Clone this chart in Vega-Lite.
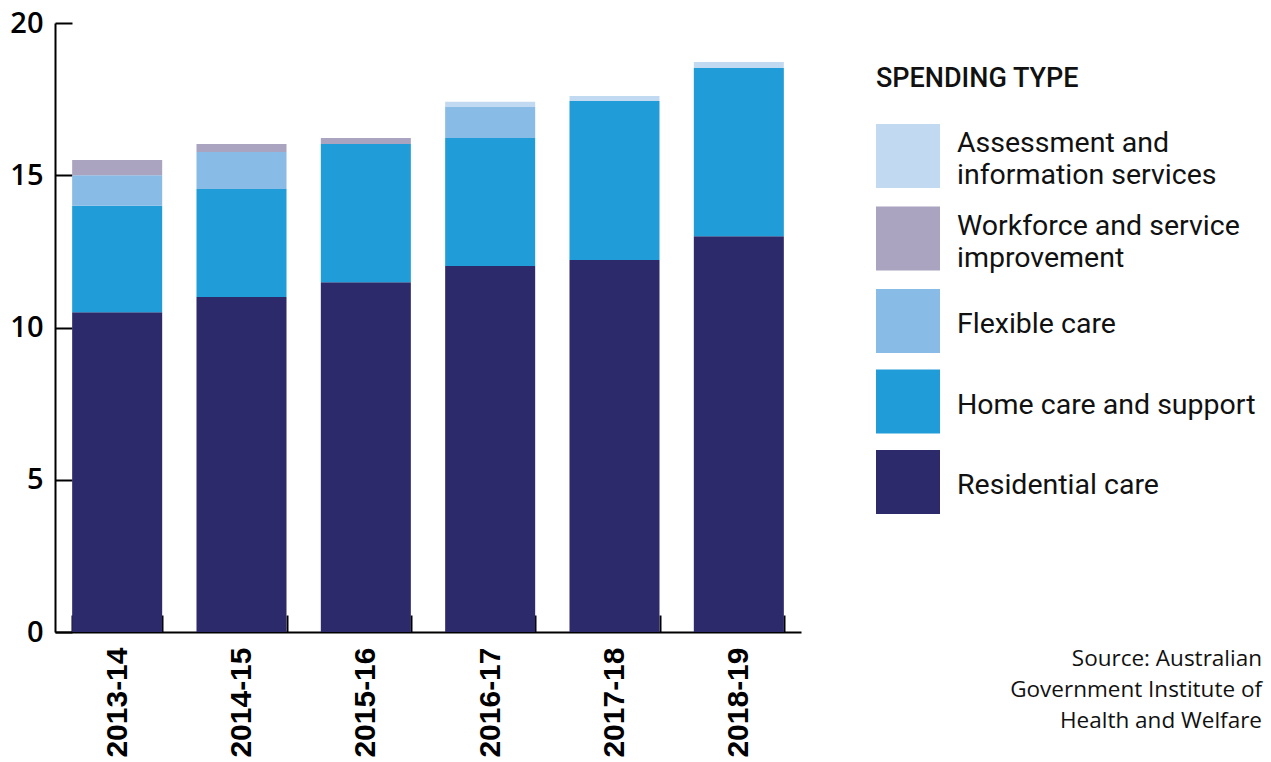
{
  "$schema": "https://vega.github.io/schema/vega-lite/v6.json",
  "autosize": "none",
  "width": 746,
  "height": 609,
  "padding": {"left": 55, "top": 23, "right": 470, "bottom": 130},
  "background": "white",
  "title": {
    "text": ["Source: Australian", "Government Institute of", "Health and Welfare"],
    "orient": "bottom",
    "anchor": "end",
    "frame": "bounds",
    "font": "Open Sans",
    "fontSize": 22.5,
    "fontWeight": "normal",
    "color": "#111111",
    "lineHeight": 31,
    "offset": -109,
    "dx": 6
  },
  "data": {
    "values": [
      {"year": "2013-14", "type": "Residential care", "value": 10.5},
      {"year": "2013-14", "type": "Home care and support", "value": 3.5},
      {"year": "2013-14", "type": "Flexible care", "value": 1.0},
      {"year": "2013-14", "type": "Workforce and service improvement", "value": 0.5},
      {"year": "2013-14", "type": "Assessment and information services", "value": 0},
      {"year": "2014-15", "type": "Residential care", "value": 11.0},
      {"year": "2014-15", "type": "Home care and support", "value": 3.55},
      {"year": "2014-15", "type": "Flexible care", "value": 1.21},
      {"year": "2014-15", "type": "Workforce and service improvement", "value": 0.27},
      {"year": "2014-15", "type": "Assessment and information services", "value": 0},
      {"year": "2015-16", "type": "Residential care", "value": 11.49},
      {"year": "2015-16", "type": "Home care and support", "value": 4.54},
      {"year": "2015-16", "type": "Flexible care", "value": 0},
      {"year": "2015-16", "type": "Workforce and service improvement", "value": 0.19},
      {"year": "2015-16", "type": "Assessment and information services", "value": 0},
      {"year": "2016-17", "type": "Residential care", "value": 12.02},
      {"year": "2016-17", "type": "Home care and support", "value": 4.2},
      {"year": "2016-17", "type": "Flexible care", "value": 1.02},
      {"year": "2016-17", "type": "Workforce and service improvement", "value": 0},
      {"year": "2016-17", "type": "Assessment and information services", "value": 0.17},
      {"year": "2017-18", "type": "Residential care", "value": 12.22},
      {"year": "2017-18", "type": "Home care and support", "value": 5.22},
      {"year": "2017-18", "type": "Flexible care", "value": 0},
      {"year": "2017-18", "type": "Workforce and service improvement", "value": 0},
      {"year": "2017-18", "type": "Assessment and information services", "value": 0.16},
      {"year": "2018-19", "type": "Residential care", "value": 13.0},
      {"year": "2018-19", "type": "Home care and support", "value": 5.52},
      {"year": "2018-19", "type": "Flexible care", "value": 0},
      {"year": "2018-19", "type": "Workforce and service improvement", "value": 0},
      {"year": "2018-19", "type": "Assessment and information services", "value": 0.2}
    ]
  },
  "transform": [
    {"calculate": "indexof(['Residential care','Home care and support','Flexible care','Workforce and service improvement','Assessment and information services'], datum.type)", "as": "stackOrder"}
  ],
  "mark": {"type": "bar"},
  "encoding": {
    "x": {
      "field": "year",
      "type": "ordinal",
      "scale": {"paddingInner": 0.276, "paddingOuter": 0.138},
      "axis": {
        "title": null,
        "domainColor": "#000000",
        "domainWidth": 2,
        "tickColor": "#000000",
        "tickWidth": 2,
        "tickSize": -17,
        "tickBand": "extent",
        "labelAngle": -90,
        "labelAlign": "right",
        "labelBaseline": "middle",
        "labelFont": "Liberation Sans",
        "labelFontWeight": "bold",
        "labelFontSize": 30,
        "labelColor": "#000000",
        "labelPadding": 32
      }
    },
    "y": {
      "field": "value",
      "type": "quantitative",
      "stack": "zero",
      "scale": {"domain": [0, 20], "nice": false},
      "axis": {
        "title": null,
        "values": [0, 5, 10, 15, 20],
        "grid": false,
        "domainColor": "#000000",
        "domainWidth": 2,
        "tickColor": "#000000",
        "tickWidth": 2,
        "tickSize": -17,
        "labelFont": "Open Sans",
        "labelFontWeight": 600,
        "labelFontSize": 29,
        "labelColor": "#000000",
        "labelPadding": 29
      }
    },
    "color": {
      "field": "type",
      "type": "nominal",
      "scale": {
        "domain": ["Assessment and information services", "Workforce and service improvement", "Flexible care", "Home care and support", "Residential care"],
        "range": ["#c2daf1", "#aaa4c0", "#88bbe6", "#209cd8", "#2c2a6a"]
      },
      "legend": {
        "title": "SPENDING TYPE",
        "orient": "none",
        "legendX": 821,
        "legendY": 43,
        "padding": 0,
        "titleFont": "Roboto",
        "titleFontWeight": 500,
        "titleFontSize": 27,
        "titleLimit": 500,
        "titleColor": "#111111",
        "titlePadding": 31,
        "titleAnchor": "start",
        "symbolType": "square",
        "symbolSize": 4096,
        "symbolStrokeWidth": 0,
        "symbolOpacity": 1,
        "labelFont": "Roboto",
        "labelFontSize": 28.5,
        "labelColor": "#111111",
        "labelLimit": 400,
        "labelOffset": 17,
        "labelBaseline": "middle",
        "rowPadding": 16.5,
        "labelExpr": "datum.label == 'Assessment and information services' ? ['Assessment and', 'information services'] : datum.label == 'Workforce and service improvement' ? ['Workforce and service', 'improvement'] : datum.label",
        "encode": {
          "labels": {
            "update": {
              "dy": {"signal": "length(datum.label) > 25 ? -13 : 3"}
            }
          }
        }
      }
    },
    "order": {"field": "stackOrder", "type": "quantitative", "sort": "ascending"}
  },
  "config": {
    "view": {"stroke": null},
    "style": {"guide-label": {"lineHeight": 32}}
  }
}
